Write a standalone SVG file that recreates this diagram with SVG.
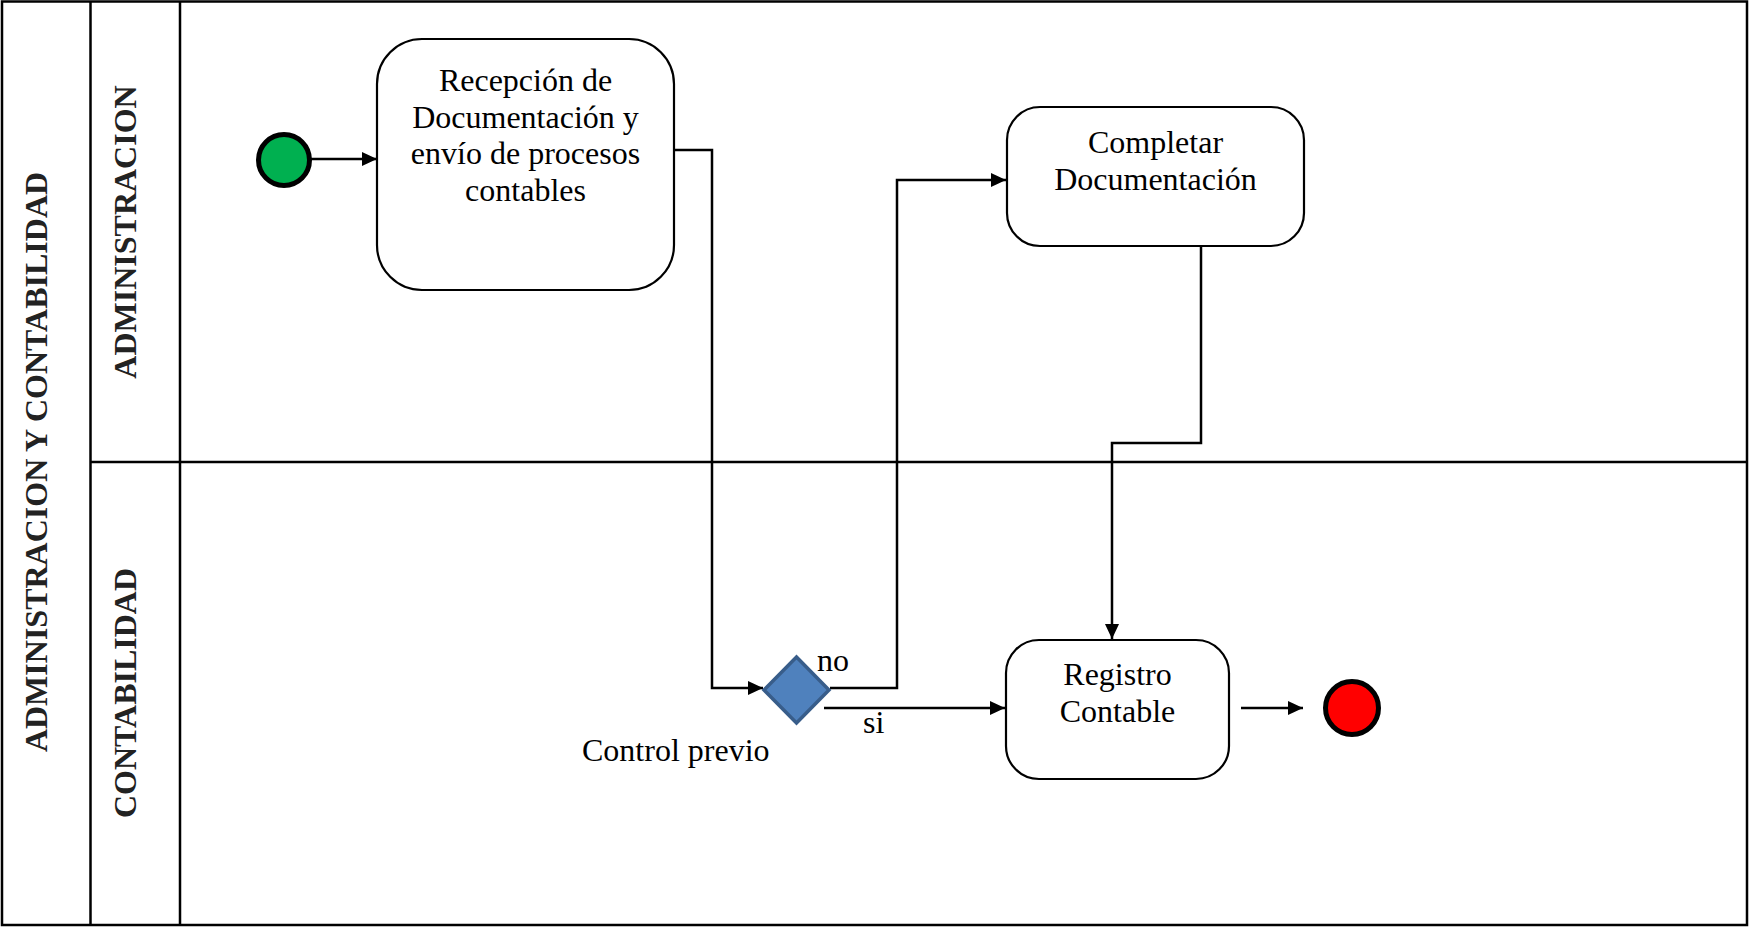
<svg xmlns="http://www.w3.org/2000/svg" width="1749" height="927" viewBox="0 0 1749 927">
  <style>
    .lane { fill: none; stroke: #000; stroke-width: 2.5; }
    .lane-title { font-family: "Liberation Serif", "Times New Roman", serif; font-size: 32px; font-weight: bold; fill: #222; text-anchor: middle; }
    .task { fill: #fff; stroke: #000; stroke-width: 2.2; }
    .label { font-family: "Liberation Serif", "Times New Roman", serif; font-size: 32px; fill: #000; text-anchor: middle; }
    .edge-label { font-family: "Liberation Serif", "Times New Roman", serif; font-size: 32px; fill: #000; }
    .flow { fill: none; stroke: #000; stroke-width: 2.5; marker-end: url(#arrow); }
  </style>
  <defs>
    <marker id="arrow" markerUnits="userSpaceOnUse" markerWidth="17" markerHeight="14" refX="15" refY="7" orient="auto">
      <path d="M0,0 L15,7 L0,14 z" fill="#000"/>
    </marker>
  </defs>

  <rect width="1749" height="927" fill="#fff"/>

  <!-- pool and lanes -->
  <g id="pool">
    <rect class="lane" x="2" y="1.5" width="1745" height="923.5"/>
    <line class="lane" x1="90.5" y1="1.5" x2="90.5" y2="925"/>
    <line class="lane" x1="180" y1="1.5" x2="180" y2="925"/>
    <line class="lane" x1="90.5" y1="462" x2="1747" y2="462"/>
    <text class="lane-title" transform="translate(47,462) rotate(-90)">ADMINISTRACION Y CONTABILIDAD</text>
  </g>
  <g id="lane-administracion">
    <text class="lane-title" transform="translate(136,232) rotate(-90)">ADMINISTRACION</text>
  </g>
  <g id="lane-contabilidad">
    <text class="lane-title" transform="translate(136,693) rotate(-90)">CONTABILIDAD</text>
  </g>

  <!-- sequence flows -->
  <g id="connectors">
    <path class="flow" d="M311,159 L377,159"/>
    <path class="flow" d="M674,150 L712,150 L712,688 L763,688"/>
    <path class="flow" d="M830,688 L897,688 L897,180 L1006,180"/>
    <path class="flow" d="M824,708 L1005,708"/>
    <path class="flow" d="M1201,246 L1201,443 L1112,443 L1112,639"/>
    <path class="flow" d="M1241,708 L1303,708"/>
    <text class="edge-label" x="817" y="671">no</text>
    <text class="edge-label" x="863" y="733">si</text>
  </g>

  <g id="start">
    <circle cx="284" cy="160" r="25.5" fill="#00B050" stroke="#000" stroke-width="5"/>
  </g>

  <g id="recepcion">
    <rect class="task" x="377" y="39" width="297" height="251" rx="45" ry="45"/>
    <text class="label" x="525.5" y="91">Recepción de</text>
    <text class="label" x="525.5" y="127.5">Documentación y</text>
    <text class="label" x="525.5" y="164">envío de procesos</text>
    <text class="label" x="525.5" y="200.5">contables</text>
  </g>

  <g id="completar">
    <rect class="task" x="1007" y="107" width="297" height="139" rx="33" ry="33"/>
    <text class="label" x="1155.5" y="153">Completar</text>
    <text class="label" x="1155.5" y="190">Documentación</text>
  </g>

  <g id="control-previo">
    <polygon points="796.5,657 829,690 796.5,723 764,690" fill="#4F81BD" stroke="#385D8A" stroke-width="3.5"/>
    <text class="edge-label" x="582" y="761">Control previo</text>
  </g>

  <g id="registro">
    <rect class="task" x="1006" y="640" width="223" height="139" rx="33" ry="33"/>
    <text class="label" x="1117.5" y="685">Registro</text>
    <text class="label" x="1117.5" y="722">Contable</text>
  </g>

  <g id="end">
    <circle cx="1352" cy="708" r="26.5" fill="#FF0000" stroke="#000" stroke-width="5"/>
  </g>
</svg>
